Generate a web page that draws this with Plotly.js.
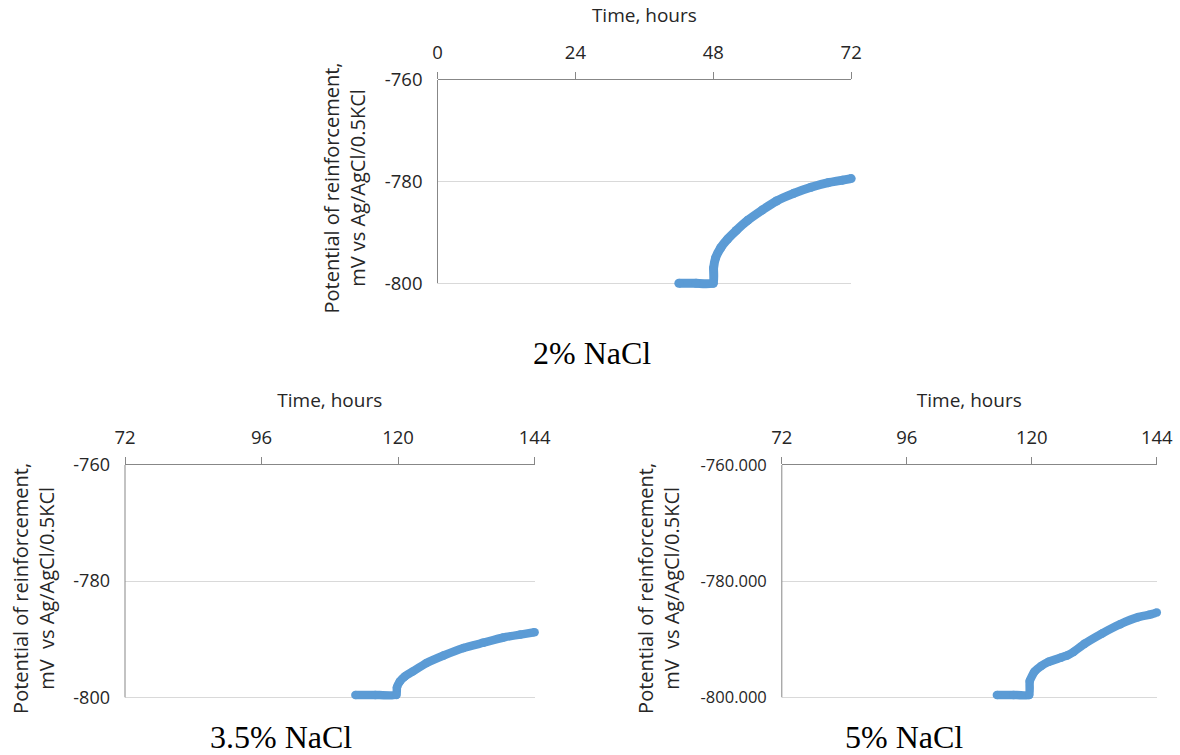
<!DOCTYPE html>
<html>
<head>
<meta charset="utf-8">
<script src="https://cdn.plot.ly/plotly-3.0.1.min.js"></script>
<style>html,body{margin:0;padding:0;background:#fff;}#chart{width:1180px;height:755px;}</style>
</head>
<body>
<div id="chart"></div>
<script>
// ---- data ----
const panelTitles = ['2% NaCl', '3.5% NaCl', '5% NaCl'];
const xAxisTitle = 'Time, hours';
const yAxisTitleA = 'Potential of reinforcement,<br>mV vs Ag/AgCl/0.5KCl';
const yAxisTitleB = 'Potential of reinforcement,<br>mV\u00a0\u00a0vs Ag/AgCl/0.5KCl';

const xTicksTop = [0, 24, 48, 72];
const xTicksBottom = [72, 96, 120, 144];
const yTickVals = [-800, -780, -760];
const yTickText = ['-800', '-780', '-760'];
const yTickText3 = ['-800.000', '-780.000', '-760.000'];

// 2% NaCl
const hours2 = [42, 45, 48, 48.05, 48.4, 49.3, 50.5, 52, 54, 56.5, 59, 62, 65, 68, 70.5, 72];
const pot2 = [-800, -800, -800, -797, -795, -793, -791.3, -789.6, -787.6, -785.6, -783.8, -782.3, -781.1, -780.2, -779.7, -779.4];

// 3.5% NaCl
const hours35 = [112.5, 116, 119.7, 119.8, 120.3, 121.2, 122.5, 125, 128, 131.5, 135, 138.5, 141.5, 144];
const pot35 = [-799.6, -799.6, -799.6, -798.3, -797.3, -796.4, -795.6, -794.1, -792.8, -791.5, -790.6, -789.7, -789.2, -788.8];

// 5% NaCl
const hours5 = [113.3, 116.5, 119.5, 119.6, 120.5, 121.8, 123.2, 125.5, 126.8, 128, 130.1, 133.5, 137, 140.4, 142.5, 144];
const pot5 = [-799.6, -799.6, -799.6, -797.2, -795.6, -794.6, -793.9, -793.2, -792.8, -792.2, -790.8, -789.0, -787.4, -786.2, -785.8, -785.4];

// ---- styling ----
const W = 1180, H = 755;
const lineColor = '#5B9BD5';
const axisColor = '#878787';
const gridColor = '#D9D9D9';
const textColor = '#262626';
const sans = 'Open Sans, sans-serif';
const serif = 'Liberation Serif, Times New Roman, serif';
const yMin = yTickVals[0], yMax = yTickVals[yTickVals.length - 1];
const yPadBelow = 2.5; // room under the lowest gridline so the thick line is not clipped

function trace(x, y, xa, ya, w) {
  return {
    x: x, y: y, xaxis: xa, yaxis: ya, type: 'scatter', mode: 'lines+markers',
    line: {color: lineColor, width: w, shape: 'spline', smoothing: 0.4},
    marker: {color: lineColor, size: w},
    cliponaxis: false,
    hoverinfo: 'x+y', showlegend: false
  };
}

const data = [
  trace(hours2, pot2, 'x', 'y', 9),
  trace(hours35, pot35, 'x2', 'y2', 8.5),
  trace(hours5, pot5, 'x3', 'y3', 8.5)
];

function xAxis(px0, px1, anchor, ticks, fs) {
  return {
    domain: [px0 / W, px1 / W], anchor: anchor, side: 'top',
    range: [ticks[0], ticks[ticks.length - 1]],
    tickvals: ticks, ticktext: ticks.map(String),
    ticks: 'outside', ticklen: 7, tickcolor: axisColor, tickwidth: 1,
    showline: true, linecolor: axisColor, linewidth: 1,
    showgrid: false, zeroline: false, fixedrange: true,
    tickfont: {family: sans, size: fs, color: textColor},
    ticklabelstandoff: 6,
    title: {text: xAxisTitle, font: {family: sans, size: 19, color: textColor}, standoff: 10}
  };
}

// pyTop: pixel of yMax, pyLow: pixel of yMin; domain extended below by yPadBelow
function yAxis(pyTop, pyLow, anchor, text, fs, titleText, standoff) {
  const pxPerUnit = (pyLow - pyTop) / (yMax - yMin);
  const pyBottom = pyLow + yPadBelow * pxPerUnit;
  return {
    domain: [1 - pyBottom / H, 1 - pyTop / H], anchor: anchor,
    range: [yMin - yPadBelow, yMax],
    tickvals: yTickVals, ticktext: text,
    ticks: '', showline: false,
    showgrid: true, gridcolor: gridColor, gridwidth: 1,
    zeroline: false, fixedrange: true,
    tickfont: {family: sans, size: fs, color: textColor},
    ticklabelstandoff: 14,
    title: {text: titleText, font: {family: sans, size: 20, color: textColor}, standoff: standoff}
  };
}

function leftLine(xa, ya) {
  return {type: 'line', xref: xa + ' domain', x0: 0, x1: 0, yref: ya, y0: yMin, y1: yMax,
          line: {color: axisColor, width: 1}, layer: 'above'};
}

const layout = {
  width: W, height: H,
  margin: {l: 0, r: 0, t: 0, b: 0, autoexpand: false},
  paper_bgcolor: '#ffffff', plot_bgcolor: 'rgba(0,0,0,0)',
  showlegend: false,
  xaxis: xAxis(437.5, 851.2, 'y', xTicksTop, 18.5),
  yaxis: yAxis(80, 283.3, 'x', yTickText, 18.5, yAxisTitleA, 13),
  xaxis2: xAxis(125, 534.6, 'y2', xTicksBottom, 18.5),
  yaxis2: yAxis(465, 697.3, 'x2', yTickText, 18, yAxisTitleB, 13),
  xaxis3: xAxis(781.8, 1156.8, 'y3', xTicksBottom, 18.5),
  yaxis3: yAxis(465, 697.3, 'x3', yTickText3, 16.5, yAxisTitleB, 15),
  shapes: [leftLine('x', 'y'), leftLine('x2', 'y2'), leftLine('x3', 'y3')],
  annotations: [
    {text: panelTitles[0], x: 592 / W, y: 1 - 353 / H},
    {text: panelTitles[1], x: 281 / W, y: 1 - 737 / H},
    {text: panelTitles[2], x: 904 / W, y: 1 - 737 / H}
  ].map(a => Object.assign(a, {
    xref: 'paper', yref: 'paper', xanchor: 'center', yanchor: 'middle',
    showarrow: false, font: {family: serif, size: 32, color: '#000'}
  }))
};

Plotly.newPlot('chart', data, layout, {displayModeBar: false, staticPlot: true});
</script>
</body>
</html>
